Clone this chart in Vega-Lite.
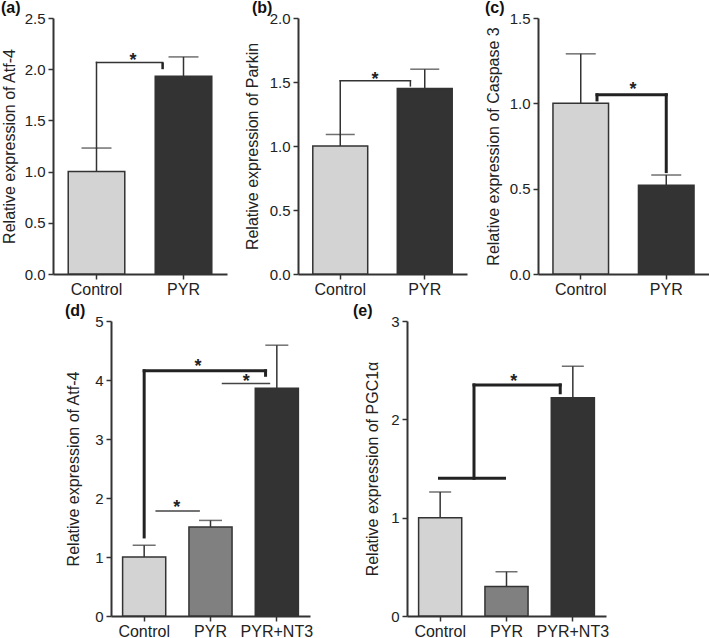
{
  "$schema": "https://vega.github.io/schema/vega-lite/v6.json",
  "padding": {"left": 1, "top": 0, "right": 0, "bottom": 0},
  "spacing": 6,
  "resolve": {"scale": {"color": "independent"}},
  "vconcat": [
    {
      "spacing": 17,
      "resolve": {"scale": {"color": "independent"}},
      "hconcat": [
        {
          "title": {"text": "(a)", "offset": -5},
          "width": 174, "height": 256,
          "resolve": {"scale": {"x": "independent"}},
          "layer": [
            {
              "data": {"values": [{"group": "Control", "value": 1.0, "upper": 1.23}, {"group": "PYR", "value": 1.93, "upper": 2.12}]},
              "encoding": {"x": {"field": "group", "type": "nominal", "sort": null, "title": null, "scale": {"paddingInner": 0.35, "paddingOuter": 0.175}, "axis": {"bandPosition": 0.5}}},
              "layer": [
                {"mark": {"type": "rule", "color": "#333", "strokeWidth": 1.5}, "encoding": {"y": {"field": "value", "type": "quantitative"}, "y2": {"field": "upper"}}},
                {"mark": {"type": "tick", "color": "#333", "thickness": 1.5, "size": 30}, "encoding": {"y": {"field": "upper", "type": "quantitative"}}},
                {"mark": {"type": "bar", "stroke": "#333", "strokeWidth": 1.5}, "encoding": {
                  "y": {"field": "value", "type": "quantitative", "scale": {"domain": [0, 2.5], "nice": false}, "axis": {"values": [0, 0.5, 1, 1.5, 2, 2.5], "format": ".1f", "title": "Relative expression of Atf-4", "minExtent": 28, "maxExtent": 28, "titlePadding": 8}},
                  "color": {"field": "group", "type": "nominal", "scale": {"domain": ["Control", "PYR"], "range": ["#d3d3d3", "#333333"]}, "legend": null}}}
              ]
            },
            {
              "layer": [
                {"data": {"values": [{"x": 0.5, "x2": 0.5, "y": 1.23, "y2": 2.066}, {"x": 0.5, "x2": 1.26, "y": 2.066, "y2": 2.066}]},
                 "mark": {"type": "rule", "color": "#333", "strokeWidth": 1.5, "strokeCap": "square"},
                 "encoding": {"x": {"field": "x", "type": "quantitative", "scale": {"domain": [0, 2], "nice": false, "zero": false}, "axis": null}, "x2": {"field": "x2"}, "y": {"field": "y", "type": "quantitative"}, "y2": {"field": "y2"}}},
                {"data": {"values": [{"x": 1.26, "x2": 1.26, "y": 2.066, "y2": 2.0}]},
                 "mark": {"type": "rule", "color": "#222", "strokeWidth": 2.5},
                 "encoding": {"x": {"field": "x", "type": "quantitative", "axis": null}, "x2": {"field": "x2"}, "y": {"field": "y", "type": "quantitative"}, "y2": {"field": "y2"}}},
                {"data": {"values": [{"x": 0.92, "y": 2.12, "label": "*"}]},
                 "mark": {"type": "text", "fontSize": 18, "fontWeight": "bold", "color": "#222", "baseline": "middle", "dy": 4},
                 "encoding": {"x": {"field": "x", "type": "quantitative", "axis": null}, "y": {"field": "y", "type": "quantitative"}, "text": {"field": "label"}}}
              ]
            }
          ]
        },
        {
          "title": {"text": "(b)", "offset": -5, "dx": 8},
          "width": 169, "height": 256,
          "resolve": {"scale": {"x": "independent"}},
          "layer": [
            {
              "data": {"values": [{"group": "Control", "value": 1.0, "upper": 1.09}, {"group": "PYR", "value": 1.45, "upper": 1.6}]},
              "encoding": {"x": {"field": "group", "type": "nominal", "sort": null, "title": null, "scale": {"paddingInner": 0.35, "paddingOuter": 0.175}, "axis": {"bandPosition": 0.5}}},
              "layer": [
                {"mark": {"type": "rule", "color": "#333", "strokeWidth": 1.5}, "encoding": {"y": {"field": "value", "type": "quantitative"}, "y2": {"field": "upper"}}},
                {"mark": {"type": "tick", "color": "#333", "thickness": 1.5, "size": 29}, "encoding": {"y": {"field": "upper", "type": "quantitative"}}},
                {"mark": {"type": "bar", "stroke": "#333", "strokeWidth": 1.5}, "encoding": {
                  "y": {"field": "value", "type": "quantitative", "scale": {"domain": [0, 2], "nice": false}, "axis": {"values": [0, 0.5, 1, 1.5, 2], "format": ".1f", "title": "Relative expression of Parkin", "minExtent": 28, "maxExtent": 28, "titlePadding": 10}},
                  "color": {"field": "group", "type": "nominal", "scale": {"domain": ["Control", "PYR"], "range": ["#d3d3d3", "#333333"]}, "legend": null}}}
              ]
            },
            {
              "layer": [
                {"data": {"values": [{"x": 0.5, "x2": 0.5, "y": 1.09, "y2": 1.51}, {"x": 0.5, "x2": 1.33, "y": 1.51, "y2": 1.51}, {"x": 1.33, "x2": 1.33, "y": 1.51, "y2": 1.47}]},
                 "mark": {"type": "rule", "color": "#333", "strokeWidth": 1.5, "strokeCap": "square"},
                 "encoding": {"x": {"field": "x", "type": "quantitative", "scale": {"domain": [0, 2], "nice": false, "zero": false}, "axis": null}, "x2": {"field": "x2"}, "y": {"field": "y", "type": "quantitative"}, "y2": {"field": "y2"}}},
                {"data": {"values": [{"x": 0.91, "y": 1.55, "label": "*"}]},
                 "mark": {"type": "text", "fontSize": 18, "fontWeight": "bold", "color": "#222", "baseline": "middle", "dy": 4},
                 "encoding": {"x": {"field": "x", "type": "quantitative", "axis": null}, "y": {"field": "y", "type": "quantitative"}, "text": {"field": "label"}}}
              ]
            }
          ]
        },
        {
          "title": {"text": "(c)", "offset": -5},
          "width": 171, "height": 256,
          "resolve": {"scale": {"x": "independent"}},
          "layer": [
            {
              "data": {"values": [{"group": "Control", "value": 1.0, "upper": 1.29}, {"group": "PYR", "value": 0.52, "upper": 0.58}]},
              "encoding": {"x": {"field": "group", "type": "nominal", "sort": null, "title": null, "scale": {"paddingInner": 0.35, "paddingOuter": 0.175}, "axis": {"bandPosition": 0.5}}},
              "layer": [
                {"mark": {"type": "rule", "color": "#333", "strokeWidth": 1.5}, "encoding": {"y": {"field": "value", "type": "quantitative"}, "y2": {"field": "upper"}}},
                {"mark": {"type": "tick", "color": "#333", "thickness": 1.5, "size": 30}, "encoding": {"y": {"field": "upper", "type": "quantitative"}}},
                {"mark": {"type": "bar", "stroke": "#333", "strokeWidth": 1.5}, "encoding": {
                  "y": {"field": "value", "type": "quantitative", "scale": {"domain": [0, 1.5], "nice": false}, "axis": {"values": [0, 0.5, 1, 1.5], "format": ".1f", "title": "Relative expression of Caspase 3", "minExtent": 28, "maxExtent": 28, "titlePadding": 9}},
                  "color": {"field": "group", "type": "nominal", "scale": {"domain": ["Control", "PYR"], "range": ["#d3d3d3", "#333333"]}, "legend": null}}}
              ]
            },
            {
              "layer": [
                {"data": {"values": [{"x": 0.69, "x2": 0.69, "y": 1.02, "y2": 1.05}, {"x": 0.69, "x2": 1.5, "y": 1.05, "y2": 1.05}, {"x": 1.5, "x2": 1.5, "y": 1.05, "y2": 0.6}]},
                 "mark": {"type": "rule", "color": "#222", "strokeWidth": 3, "strokeCap": "square"},
                 "encoding": {"x": {"field": "x", "type": "quantitative", "scale": {"domain": [0, 2], "nice": false, "zero": false}, "axis": null}, "x2": {"field": "x2"}, "y": {"field": "y", "type": "quantitative"}, "y2": {"field": "y2"}}},
                {"data": {"values": [{"x": 1.11, "y": 1.1, "label": "*"}]},
                 "mark": {"type": "text", "fontSize": 18, "fontWeight": "bold", "color": "#222", "baseline": "middle", "dy": 4},
                 "encoding": {"x": {"field": "x", "type": "quantitative", "axis": null}, "y": {"field": "y", "type": "quantitative"}, "text": {"field": "label"}}}
              ]
            }
          ]
        }
      ]
    },
    {
      "spacing": 0,
      "resolve": {"scale": {"color": "independent"}},
      "hconcat": [
        {"width": 12, "height": 10, "data": {"values": [{"a": 0, "b": 1}]}, "mark": {"type": "rect", "opacity": 0},
         "encoding": {"x": {"field": "a", "type": "quantitative", "scale": {"domain": [0, 1], "nice": false}, "axis": null}, "x2": {"field": "b"}}},
        {
          "spacing": 40,
          "resolve": {"scale": {"color": "independent"}},
          "hconcat": [
            {
              "title": {"text": "(d)", "offset": -5},
              "width": 199, "height": 295,
              "resolve": {"scale": {"x": "independent"}},
              "layer": [
                {
                  "data": {"values": [{"group": "Control", "value": 1.0, "upper": 1.2}, {"group": "PYR", "value": 1.51, "upper": 1.62}, {"group": "PYR+NT3", "value": 3.86, "upper": 4.59}]},
                  "encoding": {"x": {"field": "group", "type": "nominal", "sort": null, "title": null, "scale": {"paddingInner": 0.35, "paddingOuter": 0.175}, "axis": {"bandPosition": 0.5}}},
                  "layer": [
                    {"mark": {"type": "rule", "color": "#333", "strokeWidth": 1.5}, "encoding": {"y": {"field": "value", "type": "quantitative"}, "y2": {"field": "upper"}}},
                    {"mark": {"type": "tick", "color": "#333", "thickness": 1.5, "size": 23}, "encoding": {"y": {"field": "upper", "type": "quantitative"}}},
                    {"mark": {"type": "bar", "stroke": "#333", "strokeWidth": 1.5}, "encoding": {
                      "y": {"field": "value", "type": "quantitative", "scale": {"domain": [0, 5], "nice": false}, "axis": {"values": [0, 1, 2, 3, 4, 5], "format": "d", "title": "Relative expression of Atf-4", "minExtent": 22, "maxExtent": 22, "titlePadding": 8}},
                      "color": {"field": "group", "type": "nominal", "scale": {"domain": ["Control", "PYR", "PYR+NT3"], "range": ["#d3d3d3", "#808080", "#333333"]}, "legend": null}}}
                  ]
                },
                {
                  "layer": [
                    {"data": {"values": [{"x": 0.5, "x2": 0.5, "y": 1.34, "y2": 4.155}, {"x": 0.5, "x2": 2.33, "y": 4.155, "y2": 4.155}, {"x": 2.33, "x2": 2.33, "y": 4.155, "y2": 4.08}]},
                     "mark": {"type": "rule", "color": "#222", "strokeWidth": 3, "strokeCap": "square"},
                     "encoding": {"x": {"field": "x", "type": "quantitative", "scale": {"domain": [0, 3], "nice": false, "zero": false}, "axis": null}, "x2": {"field": "x2"}, "y": {"field": "y", "type": "quantitative"}, "y2": {"field": "y2"}}},
                    {"data": {"values": [{"x": 1.67, "x2": 2.4, "y": 3.94, "y2": 3.94}, {"x": 0.67, "x2": 1.34, "y": 1.78, "y2": 1.78}]},
                     "mark": {"type": "rule", "color": "#444", "strokeWidth": 1.5},
                     "encoding": {"x": {"field": "x", "type": "quantitative", "axis": null}, "x2": {"field": "x2"}, "y": {"field": "y", "type": "quantitative"}, "y2": {"field": "y2"}}},
                    {"data": {"values": [{"x": 1.31, "y": 4.28, "label": "*"}, {"x": 2.04, "y": 4.03, "label": "*"}, {"x": 0.99, "y": 1.9, "label": "*"}]},
                     "mark": {"type": "text", "fontSize": 18, "fontWeight": "bold", "color": "#222", "baseline": "middle", "dy": 4},
                     "encoding": {"x": {"field": "x", "type": "quantitative", "axis": null}, "y": {"field": "y", "type": "quantitative"}, "text": {"field": "label"}}}
                  ]
                }
              ]
            },
            {
              "title": {"text": "(e)", "offset": -5, "dx": -11},
              "width": 199, "height": 295,
              "resolve": {"scale": {"x": "independent"}},
              "layer": [
                {
                  "data": {"values": [{"group": "Control", "value": 1.0, "upper": 1.26}, {"group": "PYR", "value": 0.3, "upper": 0.45}, {"group": "PYR+NT3", "value": 2.22, "upper": 2.54}]},
                  "encoding": {"x": {"field": "group", "type": "nominal", "sort": null, "title": null, "scale": {"paddingInner": 0.35, "paddingOuter": 0.175}, "axis": {"bandPosition": 0.5}}},
                  "layer": [
                    {"mark": {"type": "rule", "color": "#333", "strokeWidth": 1.5}, "encoding": {"y": {"field": "value", "type": "quantitative"}, "y2": {"field": "upper"}}},
                    {"mark": {"type": "tick", "color": "#333", "thickness": 1.5, "size": 22}, "encoding": {"y": {"field": "upper", "type": "quantitative"}}},
                    {"mark": {"type": "bar", "stroke": "#333", "strokeWidth": 1.5}, "encoding": {
                      "y": {"field": "value", "type": "quantitative", "scale": {"domain": [0, 3], "nice": false}, "axis": {"values": [0, 1, 2, 3], "format": "d", "title": "Relative expression of PGC1α", "minExtent": 20, "maxExtent": 20, "titlePadding": 7}},
                      "color": {"field": "group", "type": "nominal", "scale": {"domain": ["Control", "PYR", "PYR+NT3"], "range": ["#d3d3d3", "#808080", "#333333"]}, "legend": null}}}
                  ]
                },
                {
                  "layer": [
                    {"data": {"values": [{"x": 0.49, "x2": 1.47, "y": 1.4, "y2": 1.4}, {"x": 1.01, "x2": 1.01, "y": 1.4, "y2": 2.35}, {"x": 1.01, "x2": 2.31, "y": 2.35, "y2": 2.35}, {"x": 2.31, "x2": 2.31, "y": 2.35, "y2": 2.27}]},
                     "mark": {"type": "rule", "color": "#222", "strokeWidth": 3, "strokeCap": "square"},
                     "encoding": {"x": {"field": "x", "type": "quantitative", "scale": {"domain": [0, 3], "nice": false, "zero": false}, "axis": null}, "x2": {"field": "x2"}, "y": {"field": "y", "type": "quantitative"}, "y2": {"field": "y2"}}},
                    {"data": {"values": [{"x": 1.61, "y": 2.42, "label": "*"}]},
                     "mark": {"type": "text", "fontSize": 18, "fontWeight": "bold", "color": "#222", "baseline": "middle", "dy": 4},
                     "encoding": {"x": {"field": "x", "type": "quantitative", "axis": null}, "y": {"field": "y", "type": "quantitative"}, "text": {"field": "label"}}}
                  ]
                }
              ]
            }
          ]
        }
      ]
    }
  ],
  "config": {
    "font": "Liberation Sans",
    "view": {"stroke": null},
    "axis": {"domainColor": "#333", "domainWidth": 2, "tickColor": "#333", "tickWidth": 1.5, "tickSize": 5, "labelColor": "#222", "titleColor": "#222", "grid": false, "titleFontWeight": "normal", "titleFontSize": 16, "labelFont": "Liberation Sans", "titleFont": "Liberation Sans"},
    "axisX": {"labelFontSize": 16, "labelAngle": 0, "labelPadding": 2},
    "axisY": {"labelFontSize": 15, "labelPadding": 3},
    "title": {"anchor": "start", "frame": "bounds", "fontSize": 16, "fontWeight": "bold", "color": "#111", "font": "Liberation Sans"}
  }
}
